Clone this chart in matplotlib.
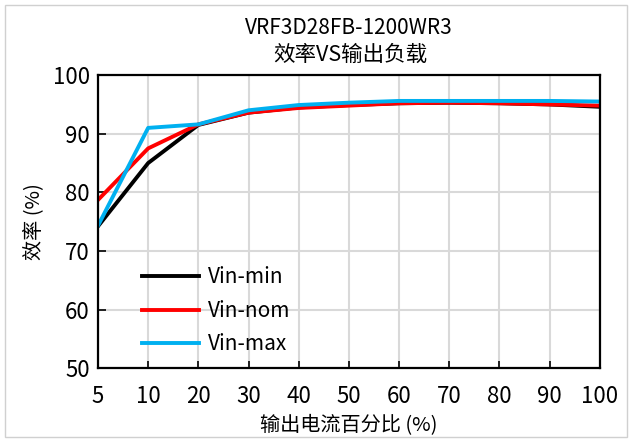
import matplotlib
matplotlib.use("Agg")
import matplotlib.pyplot as plt
from matplotlib.patches import Rectangle

# ---------------------------------------------------------------------------
# Data
# ---------------------------------------------------------------------------

LOAD = ["5", "10", "20", "30", "40", "50", "60", "70", "80", "90", "100"]
VIN_MIN = [74.2, 85.0, 91.5, 93.6, 94.5, 94.9, 95.2, 95.3, 95.2, 95.0, 94.6]
VIN_NOM = [78.7, 87.5, 91.6, 93.6, 94.4, 94.8, 95.2, 95.3, 95.2, 95.0, 94.8]
VIN_MAX = [74.3, 91.0, 91.6, 94.0, 94.9, 95.3, 95.6, 95.6, 95.6, 95.6, 95.5]

YTICKS = [50, 60, 70, 80, 90, 100]

# ---------------------------------------------------------------------------
# Plot
# ---------------------------------------------------------------------------

plt.rcParams["font.family"] = ["Noto Sans CJK SC", "DejaVu Sans"]

fig = plt.figure(figsize=(6.32, 4.42), dpi=100)
fig.patches.append(Rectangle((0.008, 0.012), 0.984, 0.976, transform=fig.transFigure,
                             fill=False, edgecolor="#d0d0d0", linewidth=1))
ax = fig.add_axes([0.155, 0.167, 0.794, 0.663])

x = list(range(len(LOAD)))
ax.plot(x, VIN_MIN, color="black", lw=2.8, label="Vin-min")
ax.plot(x, VIN_NOM, color="#ff0000", lw=2.8, label="Vin-nom")
ax.plot(x, VIN_MAX, color="#00b0f0", lw=2.8, label="Vin-max")

ax.set_xlim(0, len(LOAD) - 1)
ax.set_ylim(50, 100)
ax.set_xticks(x)
ax.set_xticklabels(LOAD)
ax.set_yticks(YTICKS)
ax.tick_params(axis="x", length=5, width=1.2, direction="in", pad=12, labelsize=16)
ax.tick_params(axis="y", length=6, width=1.2, direction="in", labelsize=16, pad=6)
ax.grid(True, color="#d9d9d9", linewidth=1.5)
ax.set_axisbelow(True)
for s in ax.spines.values():
    s.set_linewidth(1.6)

ax.set_xlabel("输出电流百分比 (%)", fontsize=14.5, labelpad=5)
ax.set_ylabel("效率 (%)", fontsize=14.5, labelpad=6)

fig.text(0.552, 0.937, "VRF3D28FB-1200WR3", ha="center", va="center", fontsize=15)
fig.text(0.555, 0.876, "效率VS输出负载", ha="center", va="center", fontsize=15.5)

ax.legend(loc="lower left", bbox_to_anchor=(0.05, -0.02), frameon=False, fontsize=15,
          handlelength=2.75, labelspacing=0.55, handletextpad=0.45)

fig.savefig("out.png", dpi=100)
